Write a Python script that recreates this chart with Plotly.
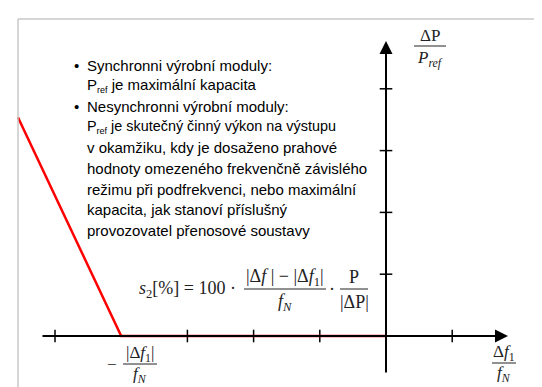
import plotly.graph_objects as go

W, H = 542, 387

# red characteristic (x in steps of df/fN, y in steps of dP/Pref)
curve_x = [-5.56, -4, 0]
curve_y = [3.54, 0, 0]

# tick positions on both axes
xtick_vals = [-5, -3, -2, -1, 1]
ytick_vals = [1, 2, 3, 4]

REF = "P<sub><span style='font-size:9px'>ref</span></sub>"
bullet_lines = [
    ("•", "Synchronni výrobní moduly:"),
    ("", REF + " je maximální kapacita"),
    ("•", "Nesynchronni výrobní moduly:"),
    ("", REF + " je skutečný činný výkon na výstupu"),
    ("", "v okamžiku, kdy je dosaženo prahové"),
    ("", "hodnoty omezeného frekvenčně závislého"),
    ("", "režimu při podfrekvenci, nebo maximální"),
    ("", "kapacita, jak stanoví příslušný"),
    ("", "provozovatel přenosové soustavy"),
]

# pixel -> data mapping of the drawing
X0, SX = 378, 66.2
Y0, SY = 328, 61.8
xr = [(0 - X0) / SX, (W - X0) / SX]
yr = [(Y0 - H) / SY, (Y0 - 0) / SY]


def px(u):
    return u / W


def py(v):
    return 1 - v / H


fig = go.Figure()

# axes with arrows
fig.add_annotation(x=(500 - X0) / SX, y=0, ax=(33 - X0) / SX, ay=0,
                   xref="x", yref="y", axref="x", ayref="y", text="",
                   showarrow=True, arrowhead=2, arrowsize=1.3, arrowwidth=2, arrowcolor="black")
fig.add_annotation(x=0, y=(Y0 - 33) / SY, ax=0, ay=(Y0 - 366) / SY,
                   xref="x", yref="y", axref="x", ayref="y", text="",
                   showarrow=True, arrowhead=2, arrowsize=1.3, arrowwidth=2, arrowcolor="black")

# ticks
fig.add_trace(go.Scatter(x=xtick_vals, y=[0] * len(xtick_vals), mode="markers",
                         marker=dict(symbol="line-ns", size=9, line=dict(width=1.5, color="black")),
                         hoverinfo="skip"))
fig.add_trace(go.Scatter(x=[0] * len(ytick_vals), y=ytick_vals, mode="markers",
                         marker=dict(symbol="line-ew", size=9, line=dict(width=1.5, color="black")),
                         hoverinfo="skip"))

# red curve
fig.add_trace(go.Scatter(x=curve_x, y=curve_y, mode="lines",
                         line=dict(color="#ff0000", width=2.5), hoverinfo="skip"))

# grey frame (top + left)
fig.add_shape(type="line", xref="paper", yref="paper", x0=px(10), x1=1, y0=py(11), y1=py(11),
              line=dict(color="#c8c8c8", width=1.5))
fig.add_shape(type="line", xref="paper", yref="paper", x0=px(10), x1=px(10), y0=py(11), y1=0,
              line=dict(color="#c8c8c8", width=1.5))

sans = dict(family="Liberation Sans, Arial", size=15, color="black")
serif = dict(family="Liberation Serif, DejaVu Serif", size=17, color="#222222")
serif_big = dict(family="Liberation Serif, DejaVu Serif", size=18, color="#222222")

for i, (b, t) in enumerate(bullet_lines):
    yy = 57 + i * 20.7
    if b:
        fig.add_annotation(x=px(68), y=py(yy), xref="paper", yref="paper", text=b,
                           showarrow=False, font=sans, xanchor="center", yanchor="middle")
    f = dict(sans, size=14.4) if i == 3 else sans
    fig.add_annotation(x=px(77), y=py(yy), xref="paper", yref="paper", text=t,
                       showarrow=False, font=f, xanchor="left", yanchor="middle")


def frac(cx, bar_y, num, den, half, up=11, down=12, font=serif):
    fig.add_annotation(x=px(cx), y=py(bar_y - up), xref="paper", yref="paper", text=num,
                       showarrow=False, font=font, xanchor="center", yanchor="middle")
    fig.add_annotation(x=px(cx), y=py(bar_y + down), xref="paper", yref="paper", text=den,
                       showarrow=False, font=font, xanchor="center", yanchor="middle")
    fig.add_shape(type="line", xref="paper", yref="paper", x0=px(cx - half), x1=px(cx + half),
                  y0=py(bar_y), y1=py(bar_y), line=dict(color="#222222", width=1))


# axis labels
frac(422, 38, "ΔP", "<i>P<sub>ref</sub></i>", 16, up=11, down=13)
frac(496, 355, "Δ<i>f</i><sub>1</sub>", "<i>f<sub>N</sub></i>", 12, up=10, down=11)
frac(132, 356, "|Δ<i>f</i><sub>1</sub>|", "<i>f<sub>N</sub></i>", 17, up=10, down=11)
fig.add_annotation(x=px(104), y=py(356), xref="paper", yref="paper", text="−",
                   showarrow=False, font=serif, xanchor="center", yanchor="middle")

# formula
fig.add_annotation(x=px(230), y=py(281), xref="paper", yref="paper",
                   text="<i>s</i><sub>2</sub>[%] = 100 ·", showarrow=False, font=serif_big,
                   xanchor="right", yanchor="middle")
frac(277, 281, "|Δ<i>f</i> | − |Δ<i>f</i><sub>1</sub>|", "<i>f<sub>N</sub></i>", 41,
     up=12, down=13, font=serif_big)
fig.add_annotation(x=px(324), y=py(281), xref="paper", yref="paper", text="·",
                   showarrow=False, font=serif_big, xanchor="center", yanchor="middle")
frac(346, 281, "P", "|ΔP|", 14, up=12, down=13, font=serif_big)

fig.update_layout(
    width=W, height=H, margin=dict(l=0, r=0, t=0, b=0),
    paper_bgcolor="white", plot_bgcolor="white", showlegend=False,
    xaxis=dict(range=xr, visible=False, fixedrange=True),
    yaxis=dict(range=yr, visible=False, fixedrange=True),
)

fig.write_html("out.html")
